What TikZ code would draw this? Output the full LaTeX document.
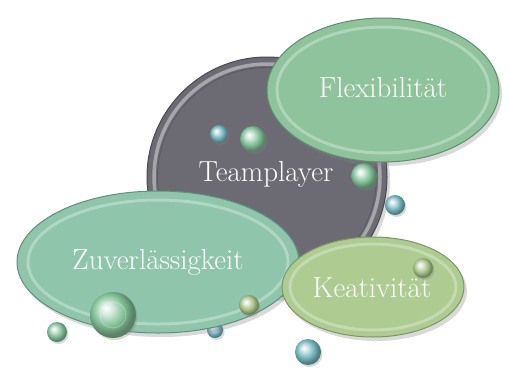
\documentclass[tikz,border=0pt]{standalone}
\usetikzlibrary{shapes.geometric,shadows}
\definecolor{grayc}{HTML}{6C6B73}
\definecolor{grayd}{HTML}{4A4950}
\definecolor{flexc}{HTML}{8EC39B}
\definecolor{flexd}{HTML}{5E8F6C}
\definecolor{zuvc}{HTML}{8EC5AB}
\definecolor{zuvd}{HTML}{5C917C}
\definecolor{keac}{HTML}{AECB91}
\definecolor{kead}{HTML}{7C9763}
\definecolor{sgreen}{HTML}{7FC096}
\definecolor{sblue}{HTML}{72B4BC}
\definecolor{syel}{HTML}{A4C086}
\pgfdeclareradialshading{sphg}{\pgfpoint{-8bp}{8bp}}{color(0bp)=(white); color(7bp)=(sgreen!35!white); color(17bp)=(sgreen); color(25bp)=(sgreen!70!black); color(50bp)=(sgreen!50!black)}
\pgfdeclareradialshading{sphb}{\pgfpoint{-8bp}{8bp}}{color(0bp)=(white); color(7bp)=(sblue!35!white); color(17bp)=(sblue); color(25bp)=(sblue!70!black); color(50bp)=(sblue!50!black)}
\pgfdeclareradialshading{sphy}{\pgfpoint{-8bp}{8bp}}{color(0bp)=(white); color(7bp)=(syel!35!white); color(17bp)=(syel); color(25bp)=(syel!70!black); color(50bp)=(syel!50!black)}
\begin{document}
\begin{tikzpicture}[x=1pt,y=-1pt,
  bubble/.style={ellipse, inner sep=0pt, line width=1pt,
    drop shadow={opacity=0.3, shadow xshift=3pt, shadow yshift=-4pt}},
  label/.style={text=white, inner sep=1pt, font=\fontsize{29}{33}\selectfont},
  bevel/.style={draw=white, line width=3pt, opacity=0.3},
  sph/.style={circle, inner sep=0pt, draw=none,
    drop shadow={opacity=0.3, shadow xshift=1.5pt, shadow yshift=-2pt}}]
\useasboundingbox (0,0) rectangle (510,367);
% gray circle
\node[circle, minimum size=240pt, inner sep=0pt, fill=grayc, draw=grayd, line width=1pt,
  drop shadow={opacity=0.3, shadow xshift=3pt, shadow yshift=-4pt}] (team) at (267,177) {};
\draw[draw=white, line width=3.5pt, opacity=0.4] (team.center) circle[radius=113pt];
\draw[draw=grayd, line width=0.8pt, opacity=0.5] (team.center) circle[radius=109.5pt];
\node[label] (teamt) at (266,174) {Teamplayer};
% spheres on gray
\node[sph, minimum size=18pt, shading=sphb] (s1) at (219,134) {};
\node[sph, minimum size=26pt, shading=sphg] (s2) at (253,139) {};
\node[sph, minimum size=26pt, shading=sphg] (s3) at (364,176) {};
\node[sph, minimum size=20pt, shading=sphb] (s4) at (395,205) {};
\node[sph, minimum size=16pt, shading=sphb] (s5) at (215,330) {};
% Flexibilitaet
\node[bubble, minimum width=232pt, minimum height=144pt, fill=flexc, draw=flexd] (flex) at (383,90) {};
\draw[bevel] (flex.center) ellipse[x radius=106pt, y radius=63pt];
\node[label] (flext) at (383,88) {Flexibilität};
% Zuverlaessigkeit
\node[bubble, minimum width=282pt, minimum height=142pt, fill=zuvc, draw=zuvd] (zuv) at (158,262) {};
\draw[bevel] (zuv.center) ellipse[x radius=130pt, y radius=62pt];
\node[label] (zuvt) at (158,262) {Zuverlässigkeit};
% Keativitaet
\node[bubble, minimum width=182pt, minimum height=100pt, fill=keac, draw=kead] (kea) at (373,287) {};
\draw[bevel] (kea.center) ellipse[x radius=83pt, y radius=43pt];
\node[label] (keat) at (372,288) {Keativität};
% front spheres
\node[sph, minimum size=46pt, shading=sphg] (s6) at (113,315) {};
\draw[white, opacity=0.25, line width=1pt] (s6.center) circle[radius=13pt];
\node[sph, minimum size=20pt, shading=sphg] (s7) at (57,332) {};
\node[sph, minimum size=20pt, shading=sphy] (s8) at (249,305) {};
\node[sph, minimum size=26pt, shading=sphb] (s9) at (308,352) {};
\node[sph, minimum size=20pt, shading=sphy] (s10) at (423,268) {};
\end{tikzpicture}
\end{document}
